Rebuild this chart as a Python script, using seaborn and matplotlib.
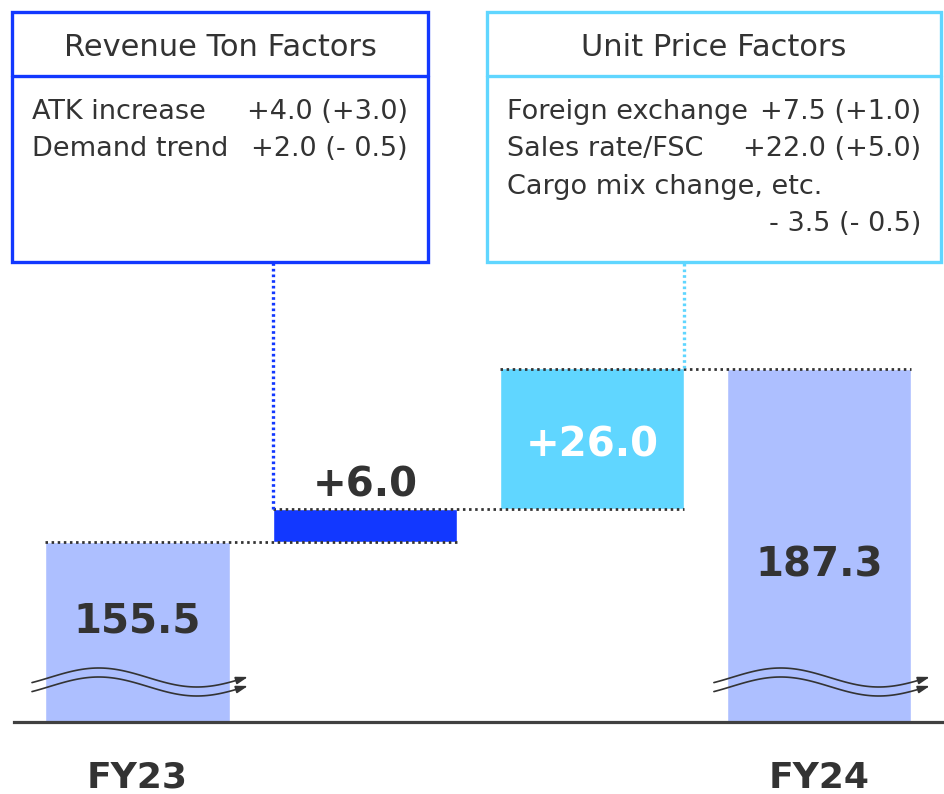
import numpy as np
import pandas as pd
import matplotlib.pyplot as plt
import seaborn as sns
from matplotlib.patches import Rectangle
from matplotlib.lines import Line2D

# Chart data
periods = ["FY23", "FY24"]
totals = [155.5, 187.3]
steps = ["Revenue Ton", "Unit Price"]
deltas = [6.0, 26.0]
delta_labels = ["+6.0", "+26.0"]

rt_title = "Revenue Ton Factors"
rt_items = ["ATK increase", "Demand trend"]
rt_values = ["+4.0 (+3.0)", "+2.0 (- 0.5)"]

up_title = "Unit Price Factors"
up_items = ["Foreign exchange", "Sales rate/FSC", "Cargo mix change, etc.", ""]
up_values = ["+7.5 (+1.0)", "+22.0 (+5.0)", "", "- 3.5 (- 0.5)"]

# Styling
W, H = 945, 794
LIGHT = "#adbfff"
BLUE = "#1238ff"
CYAN = "#60d6ff"
TEXT = "#333333"
BAR_W = 0.81
YLIM = (122.41, 255.13)
XLIM = (-0.5433, 3.5524)


def fig_xy(px, py):
    return px / W, 1 - py / H


def y_at(py):
    # value on the y axis at a given pixel row (axes spans rows 0..722)
    return YLIM[1] - py * (YLIM[1] - YLIM[0]) / 722


sns.set_style("white")
plt.rcParams["font.family"] = ["DejaVu Sans"]

fig = plt.figure(figsize=(W / 100, H / 100), dpi=100)
ax = fig.add_axes([14 / W, 72 / H, 931 / W, 722 / H])

# Total bars (FY23, FY24) via seaborn, cut off by the broken axis
df = pd.DataFrame({"period": periods, "revenue": totals})
order = [periods[0]] + steps + [periods[1]]
sns.barplot(data=df, x="period", y="revenue", order=order, color=LIGHT,
            saturation=1, width=BAR_W, ax=ax, zorder=2)

# Floating step bars
bottoms = totals[0] + np.concatenate([[0], np.cumsum(deltas)[:-1]])
ax.bar([1, 2], deltas, bottom=bottoms, width=BAR_W, color=[BLUE, CYAN], zorder=2)

ax.set_xlim(*XLIM)
ax.set_ylim(*YLIM)

# Dotted connectors
levels = [totals[0], bottoms[1], totals[1]]
for i, lv in enumerate(levels):
    ax.hlines(lv, i - BAR_W / 2, i + 1 + BAR_W / 2, colors=TEXT, lw=2.0,
              linestyles=(0, (0.9, 1.3)), zorder=3)

y_box = y_at(262)
ax.vlines(1 - BAR_W / 2, bottoms[0] + deltas[0], y_box, colors=BLUE, lw=2.4,
          linestyles=(0, (0.8, 0.9)), zorder=3)
ax.vlines(2 + BAR_W / 2, bottoms[1] + deltas[1], y_box, colors=CYAN, lw=2.4,
          linestyles=(0, (0.8, 0.9)), zorder=3)

# Value labels
big = dict(ha="center", va="baseline", fontsize=29, fontweight="bold",
           textcoords="offset pixels")
ax.annotate(f"{totals[0]:.1f}", xy=(0, totals[0]), xytext=(0, -91), color=TEXT, **big)
ax.annotate(f"{totals[1]:.1f}", xy=(3, totals[1]), xytext=(0, -208), color=TEXT, **big)
ax.annotate(delta_labels[0], xy=(1, bottoms[0] + deltas[0]), xytext=(0, 13),
            color=TEXT, **big)
ax.annotate(delta_labels[1], xy=(2, bottoms[1] + deltas[1] / 2), xytext=(0, -17.5),
            color="white", **big)

# Axis cosmetics
sns.despine(ax=ax, left=True)
ax.spines["bottom"].set_linewidth(2.3)
ax.spines["bottom"].set_color("#404040")
ax.set_yticks([])
ax.set_xlabel("")
ax.set_ylabel("")
ax.set_xticks([0, 3])
ax.set_xticklabels(periods, fontsize=26, fontweight="bold", color=TEXT)
ax.tick_params(axis="x", length=0, pad=28)

# Axis-break wave marks
t = np.linspace(0, 1, 80)
wave_dx = -105.5 + 216 * t
wave_dy = -9.5 * np.sin(2 * np.pi * (1.1 * t - 0.09))
for i in [0, 3]:
    cx = 137.5 + i * 227.3
    for base in [677.5, 686.5]:
        px = cx + wave_dx
        py = base + wave_dy
        fig.add_artist(Line2D(px[:-4] / W, 1 - py[:-4] / H, color=TEXT, lw=1.2))
        ax.annotate("", xy=(px[-1], H - py[-1]), xytext=(px[-5], H - py[-5]),
                    xycoords="figure pixels", textcoords="figure pixels",
                    arrowprops=dict(arrowstyle="-|>,head_length=0.7,head_width=0.22",
                                    color=TEXT, lw=1.2, shrinkA=0, shrinkB=0))

# Factor boxes
def factor_box(x0, x1, color, title, items, values):
    fig.add_artist(Rectangle(fig_xy(x0, 262), (x1 - x0) / W, 250 / H,
                             transform=fig.transFigure, fill=False, ec=color, lw=2.4))
    fig.add_artist(Line2D([x0 / W, x1 / W], [1 - 76 / H] * 2, color=color, lw=2.4))
    fig.text(*fig_xy((x0 + x1) / 2, 56), title, ha="center", va="baseline",
             fontsize=22, color=TEXT)
    for k, (item, val) in enumerate(zip(items, values)):
        yb = 119 + 37.3 * k
        if item:
            fig.text(*fig_xy(x0 + 20, yb), item, ha="left", va="baseline",
                     fontsize=19.5, color=TEXT)
        if val:
            fig.text(*fig_xy(x1 - 20, yb), val, ha="right", va="baseline",
                     fontsize=19.5, color=TEXT)


factor_box(12, 428, BLUE, rt_title, rt_items, rt_values)
factor_box(487, 941, CYAN, up_title, up_items, up_values)

fig.savefig("out.png", dpi=100)
